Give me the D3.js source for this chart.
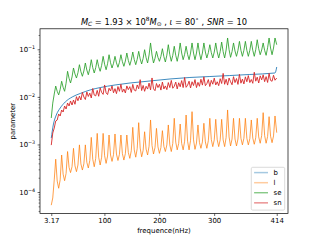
<!DOCTYPE html>
<html><head><meta charset="utf-8">
<script src="https://cdn.jsdelivr.net/npm/d3@7"></script>
<style>body{margin:0;background:#fff} svg{display:block} text{font-family:"DejaVu Sans",sans-serif;fill:#000}</style>
</head><body><svg id="c" width="320" height="240"></svg>
<script>
// frequency grid (nHz)
const freq = [
3.17,5.87,8.57,11.27,13.97,16.67,19.37,22.07,24.77,27.47,
30.17,32.87,35.57,38.27,40.97,43.67,46.37,49.07,51.77,54.47,
57.17,59.87,62.57,65.27,67.97,70.67,73.37,76.07,78.77,81.47,
84.17,86.87,89.57,92.27,94.97,97.67,100.37,103.07,105.77,108.47,
111.17,113.87,116.57,119.27,121.97,124.67,127.37,130.07,132.77,135.47,
138.17,140.87,143.57,146.27,148.97,151.67,154.37,157.07,159.77,162.47,
165.17,167.87,170.57,173.27,175.97,178.67,181.37,184.07,186.77,189.47,
192.17,194.87,197.57,200.27,202.97,205.67,208.37,211.07,213.77,216.47,
219.17,221.87,224.57,227.27,229.97,232.67,235.37,238.07,240.77,243.47,
246.17,248.87,251.57,254.27,256.97,259.67,262.37,265.07,267.77,270.47,
273.17,275.87,278.57,281.27,283.97,286.67,289.37,292.07,294.77,297.47,
300.17,302.87,305.57,308.27,310.97,313.67,316.37,319.07,321.77,324.47,
327.17,329.87,332.57,335.27,337.97,340.67,343.37,346.07,348.77,351.47,
354.17,356.87,359.57,362.27,364.97,367.67,370.37,373.07,375.77,378.47,
381.17,383.87,386.57,389.27,391.97,394.67,397.37,400.07,402.77,405.47,
408.17,410.87,414];

// series "b" (smooth)
const bFreq = [3.17,6.8,12.3,19.5,28.6,41.3,55.9,74.1,92.2,119.5,146.8,183.1,219.5,255.8,292.2,328.5,364.9,410.87,414];
const bVals = [0.00136,0.00256,0.00416,0.00584,0.00781,0.00995,0.0118,0.0140,0.0157,0.0178,0.0196,0.0216,0.0238,0.0256,0.0268,0.0281,0.0296,0.0318,0.0425];

// series "l"
const lVals = [
5.3e-5,7.5e-5,1.8e-4,4.9e-4,1.7e-4,1.2e-4,1.8e-4,6.0e-4,2.37e-4,1.73e-4,
2.46e-4,7.1e-4,3.3e-4,2.56e-4,3.4e-4,8.3e-4,3.55e-4,2.68e-4,3.7e-4,9.8e-4,
3.9e-4,2.9e-4,3.9e-4,9.8e-4,4.2e-4,3.2e-4,4.6e-4,1.41e-3,4.9e-4,3.4e-4,
5.1e-4,1.71e-3,5.4e-4,3.7e-4,5.4e-4,1.71e-3,5.8e-4,4.0e-4,5.7e-4,1.58e-3,
6.0e-4,4.4e-4,6.1e-4,1.66e-3,6.3e-4,4.6e-4,6.2e-4,1.58e-3,6.4e-4,4.7e-4,
6.4e-4,1.58e-3,6.8e-4,5.1e-4,7.4e-4,2.29e-3,7.7e-4,5.4e-4,8.2e-4,2.87e-3,
8.4e-4,5.5e-4,7.5e-4,1.85e-3,8.0e-4,6.0e-4,9.2e-4,3.27e-3,9.5e-4,6.3e-4,
8.6e-4,2.18e-3,8.9e-4,6.5e-4,8.6e-4,1.95e-3,9.1e-4,7.1e-4,9.8e-4,2.57e-3,
9.8e-4,7.1e-4,1.05e-3,3.55e-3,1.12e-3,7.7e-4,1.05e-3,2.69e-3,1.05e-3,7.7e-4,
1.17e-3,4.16e-3,1.17e-3,7.7e-4,1.22e-3,4.89e-3,1.25e-3,7.9e-4,1.07e-3,2.57e-3,
1.10e-3,8.3e-4,1.13e-3,2.79e-3,1.13e-3,8.3e-4,1.20e-3,3.55e-3,1.27e-3,9.0e-4,
1.25e-3,3.38e-3,1.25e-3,9.0e-4,1.25e-3,3.38e-3,1.25e-3,9.0e-4,1.40e-3,5.31e-3,
1.44e-3,9.3e-4,1.30e-3,3.55e-3,1.30e-3,9.3e-4,1.30e-3,3.55e-3,1.35e-3,9.8e-4,
1.35e-3,3.55e-3,1.35e-3,9.8e-4,1.32e-3,3.27e-3,1.36e-3,1.01e-3,1.38e-3,3.55e-3,
1.44e-3,1.06e-3,1.54e-3,4.66e-3,1.54e-3,1.06e-3,1.47e-3,3.84e-3,1.49e-3,1.09e-3,
1.51e-3,3.97e-3,1.77e-3];

// series "se"
const seVals = [
0.0036,0.0074,0.0115,0.0169,0.0131,0.0110,0.0143,0.0213,0.0159,0.0131,
0.0194,0.0345,0.0246,0.0196,0.0262,0.0405,0.0303,0.0249,0.0322,0.0475,
0.0338,0.0271,0.0350,0.0516,0.0367,0.0292,0.0392,0.0605,0.0411,0.0318,
0.0411,0.0605,0.0431,0.0345,0.0461,0.0712,0.0484,0.0372,0.0498,0.0770,
0.0523,0.0405,0.0508,0.0712,0.0518,0.0419,0.0533,0.0770,0.0549,0.0439,
0.0568,0.0836,0.0584,0.0461,0.0596,0.0878,0.0608,0.0475,0.0617,0.0907,
0.0629,0.0491,0.0647,0.0981,0.0666,0.0516,0.0759,0.136,0.0759,0.0516,
0.0647,0.0907,0.0679,0.0560,0.0712,0.103,0.0699,0.0541,0.0755,0.125,
0.0770,0.0560,0.0748,0.116,0.0748,0.0560,0.0797,0.136,0.0836,0.0605,
0.0785,0.116,0.0785,0.0605,0.0836,0.136,0.0836,0.0605,0.0836,0.136,
0.0836,0.0605,0.0836,0.136,0.0878,0.0657,0.0849,0.125,0.0849,0.0657,
0.0878,0.136,0.0878,0.0657,0.0895,0.142,0.0895,0.0657,0.0967,0.173,
0.0985,0.0679,0.0895,0.136,0.0921,0.0712,0.0953,0.147,0.0953,0.0712,
0.0953,0.147,0.0953,0.0712,0.0953,0.147,0.0953,0.0712,0.0981,0.159,
0.103,0.0770,0.0967,0.136,0.0949,0.0748,0.108,0.173,0.1065,0.0770,
0.1065,0.173,0.125];

// series "sn"
const snVals = [
9.7e-4,1.74e-3,2.21e-3,3.11e-3,3.26e-3,4.37e-3,3.96e-3,5.30e-3,4.81e-3,6.43e-3,
5.56e-3,7.44e-3,6.43e-3,8.20e-3,6.75e-3,8.60e-3,7.0e-3,1.01e-2,8.3e-3,1.04e-2,
8.60e-3,1.24e-2,9.95e-3,8.8e-3,1.27e-2,1.02e-2,1.20e-2,9.48e-3,1.50e-2,1.09e-2,
1.05e-2,1.37e-2,1.03e-2,1.54e-2,1.24e-2,1.13e-2,1.78e-2,1.22e-2,1.12e-2,1.52e-2,
1.33e-2,1.70e-2,1.22e-2,1.49e-2,1.17e-2,1.65e-2,1.31e-2,1.84e-2,1.26e-2,1.46e-2,
1.21e-2,1.70e-2,1.42e-2,1.64e-2,1.24e-2,1.83e-2,1.39e-2,1.33e-2,1.78e-2,1.48e-2,
2.30e-2,1.36e-2,1.74e-2,1.31e-2,1.67e-2,1.46e-2,1.95e-2,1.40e-2,2.50e-2,1.48e-2,
1.35e-2,1.91e-2,1.57e-2,1.84e-2,1.39e-2,2.05e-2,1.47e-2,1.70e-2,1.42e-2,2.00e-2,
1.57e-2,2.22e-2,1.52e-2,1.67e-2,2.05e-2,1.47e-2,1.98e-2,1.63e-2,2.20e-2,1.57e-2,
2.56e-2,1.59e-2,1.76e-2,2.14e-2,1.54e-2,2.08e-2,1.73e-2,2.31e-2,1.57e-2,2.02e-2,
1.67e-2,2.35e-2,1.77e-2,2.64e-2,1.72e-2,1.90e-2,2.31e-2,1.65e-2,2.23e-2,1.85e-2,
2.48e-2,1.78e-2,2.08e-2,1.72e-2,2.41e-2,1.91e-2,3.12e-2,1.84e-2,2.35e-2,1.77e-2,
2.49e-2,2.08e-2,1.80e-2,2.66e-2,2.00e-2,2.43e-2,1.83e-2,2.98e-2,1.94e-2,2.37e-2,
1.87e-2,2.64e-2,2.08e-2,2.80e-2,2.00e-2,2.32e-2,1.93e-2,3.30e-2,2.14e-2,2.60e-2,
1.96e-2,2.77e-2,2.28e-2,2.91e-2,2.09e-2,2.67e-2,2.01e-2,3.12e-2,2.22e-2,2.13e-2,
2.85e-2,2.24e-2,2.49e-2];

const xTickVals = [3.17,100,200,300,414];
const xTickLabels = ["3.17","100","200","300","414"];
const yTickVals = [1e-4,1e-3,1e-2,1e-1];
const yTickExps = ["\u22124","\u22123","\u22122","\u22121"];
const legendNames = ["b","l","se","sn"];

const L=40,R=288,T=28.8,B=213.6;
const FS=6.94;
const x = d3.scaleLinear().domain([-17.37,434.54]).range([L,R]);
const y = d3.scaleLog().domain([3.52e-5,0.270]).range([B,T]);

const svg = d3.select("#c");
svg.append("defs").append("clipPath").attr("id","clip").append("rect")
  .attr("x",L).attr("y",T).attr("width",R-L).attr("height",B-T);

const series = [
  {f:bFreq, v:bVals, c:"#1f77b4", o:0.85, w:1.0, lo:0.4, lw:1.5, curve:d3.curveMonotoneX},
  {f:freq, v:lVals, c:"#ff7f0e", o:0.75, w:1.0, lo:0.4, lw:1.5, curve:d3.curveLinear},
  {f:freq, v:seVals, c:"#2ca02c", o:0.85, w:1.0, lo:0.8, lw:1.0, curve:d3.curveLinear},
  {f:freq, v:snVals, c:"#d62728", o:0.9, w:1.0, lo:0.75, lw:1.0, curve:d3.curveLinear}
];

const plot = svg.append("g").attr("clip-path","url(#clip)");
series.forEach(s=>{
  const pts = s.f.map((f,i)=>[f,s.v[i]]);
  plot.append("path").datum(pts)
    .attr("d", d3.line().x(d=>x(d[0])).y(d=>y(d[1])).curve(s.curve))
    .attr("fill","none").attr("stroke",s.c).attr("stroke-opacity",s.o)
    .attr("stroke-width",s.w).attr("stroke-linejoin","round");
});

// axes
const xAxis = svg.append("g").attr("transform",`translate(0,${B})`)
  .call(d3.axisBottom(x).tickValues(xTickVals).tickSize(2.4).tickSizeOuter(0)
    .tickFormat((d,i)=>xTickLabels[i]).tickPadding(2.4));
xAxis.select(".domain").remove();
xAxis.selectAll("line").attr("stroke","#000").attr("stroke-width",0.6);
xAxis.selectAll("text").attr("font-size",FS).attr("font-family","DejaVu Sans").attr("fill","#000");

const yAxis = svg.append("g").attr("transform",`translate(${L},0)`)
  .call(d3.axisLeft(y).tickValues(yTickVals).tickSize(2.4).tickSizeOuter(0).tickFormat(""));
yAxis.select(".domain").remove();
yAxis.selectAll("line").attr("stroke","#000").attr("stroke-width",0.6);
yAxis.selectAll(".tick").each(function(d,i){
  const t = d3.select(this).append("text").attr("x",-4.8).attr("y",2.5)
    .attr("text-anchor","end").attr("font-size",FS).attr("fill","#000");
  t.append("tspan").text("10");
  t.append("tspan").attr("font-size",FS*0.7).attr("dy",-3.2).text(yTickExps[i]);
});

const minor = [];
[1e-5,1e-4,1e-3,1e-2,1e-1].forEach(dec=>{ for(let m=2;m<=9;m++){const v=m*dec; if(v>=3.52e-5 && v<=0.270) minor.push(v);} });
const yMinor = svg.append("g").attr("transform",`translate(${L},0)`)
  .call(d3.axisLeft(y).tickValues(minor).tickSize(1.4).tickSizeOuter(0).tickFormat(""));
yMinor.select(".domain").remove();
yMinor.selectAll("line").attr("stroke","#000").attr("stroke-width",0.5);

// frame
svg.append("rect").attr("x",L).attr("y",T).attr("width",R-L).attr("height",B-T)
  .attr("fill","none").attr("stroke","#000").attr("stroke-width",0.7);

// labels
svg.append("text").attr("x",(L+R)/2).attr("y",232.5).attr("text-anchor","middle")
  .attr("font-size",FS).text("frequence(nHz)");
svg.append("text").attr("transform",`translate(14.5,${(T+B)/2}) rotate(-90)`)
  .attr("text-anchor","middle").attr("font-size",FS).text("parameter");

// title
const FT=8.33, sub=FT*0.7;
const title = svg.append("text").attr("x",(L+R)/2).attr("y",24.6).attr("text-anchor","middle").attr("font-size",FT);
title.append("tspan").attr("font-style","italic").text("M");
title.append("tspan").attr("font-style","italic").attr("font-size",sub).attr("dy",1.6).text("C");
title.append("tspan").attr("dy",-1.6).text(" = 1.93 \u00d7 10");
title.append("tspan").attr("font-size",sub).attr("dy",-3.3).text("8");
title.append("tspan").attr("font-style","italic").attr("dy",3.3).text("M");
title.append("tspan").attr("font-size",sub).attr("dy",1.6).text("\u2299");
title.append("tspan").attr("dy",-1.6).text(" , ");
title.append("tspan").attr("font-style","italic").text("\u03b9");
title.append("tspan").text(" = 80");
title.append("tspan").attr("font-size",sub).attr("dy",-3.3).text("\u2218");
title.append("tspan").attr("dy",3.3).text(" , ");
title.append("tspan").attr("font-style","italic").text("SNR");
title.append("tspan").text(" = 10");

// legend
const lg = svg.append("g");
lg.append("rect").attr("x",251.3).attr("y",167.3).attr("width",33.4).attr("height",42.8)
  .attr("rx",1.4).attr("fill","#fff").attr("fill-opacity",0.8).attr("stroke","#cccccc").attr("stroke-width",0.7);
series.forEach((s,i)=>{
  const yy = 172.6 + i*10.1;
  lg.append("line").attr("x1",254.1).attr("x2",268).attr("y1",yy).attr("y2",yy)
    .attr("stroke",s.c).attr("stroke-opacity",s.lo).attr("stroke-width",s.lw);
  lg.append("text").attr("x",273.6).attr("y",yy+2.5).attr("font-size",FS).text(legendNames[i]);
});
</script></body></html>
